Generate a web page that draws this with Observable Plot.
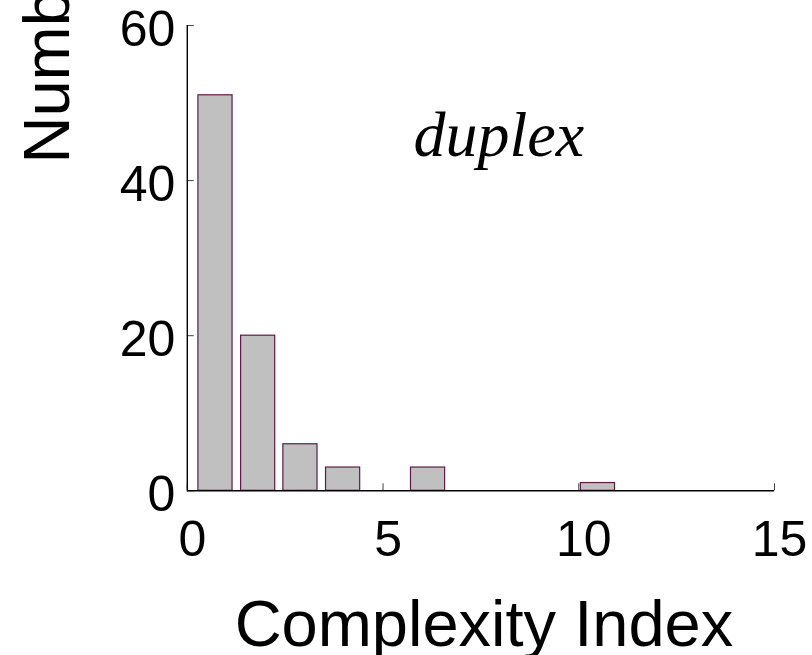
<!DOCTYPE html>
<html>
<head>
<meta charset="utf-8">
<script src="https://cdn.jsdelivr.net/npm/d3@7"></script>
<script src="https://cdn.jsdelivr.net/npm/@observablehq/plot@0.6"></script>
<style>
  html, body { margin: 0; padding: 0; background: #fff; }
  #chart svg { display: block; overflow: visible; }
</style>
</head>
<body>
<div id="chart"></div>
<script>
// Data
const binCenters = [0.72, 1.81, 2.89, 3.98, 5.06, 6.15, 7.23, 8.32, 9.40, 10.49];
const counts     = [51, 20, 6, 3, 0, 3, 0, 0, 0, 1];
const xTicks = [0, 5, 10, 15];
const yTicks = [0, 20, 40, 60];
const xLabel = "Complexity Index";
const yLabel = "Number";
const annotation = "duplex";

const binWidth = binCenters[1] - binCenters[0];
const barFrac = 0.8;
const bars = binCenters.map((c, i) => ({
  x1: c - binWidth * barFrac / 2,
  x2: c + binWidth * barFrac / 2,
  y: counts[i]
}));

const sans = "'Liberation Sans', Arial, Helvetica, sans-serif";

const plot = Plot.plot({
  width: 812,
  height: 655,
  marginLeft: 186.8,
  marginRight: 38,
  marginTop: 25,
  marginBottom: 164.7,
  style: { fontFamily: sans, background: "#fff", color: "#000" },
  x: { domain: [0, 15] },
  y: { domain: [0, 60] },
  marks: [
    Plot.rectY(bars, { x1: "x1", x2: "x2", y: "y", fill: "#c0c0c0", stroke: "#5e1a47", strokeWidth: 1.2 }),
    // inward ticks
    Plot.axisX({ ticks: xTicks, tickSize: -7, tickFormat: () => "", label: null, stroke: "#444", strokeWidth: 1 }),
    Plot.axisY({ ticks: yTicks, tickSize: -7, tickFormat: () => "", label: null, stroke: "#444", strokeWidth: 1 }),
    // tick labels
    Plot.axisX({ ticks: xTicks, tickSize: 0, tickPadding: 30, fontSize: 50, dx: 5, label: null, fill: "#000" }),
    Plot.axisY({ ticks: yTicks, tickSize: 0, tickPadding: 12, fontSize: 50, dy: 4, label: null, fill: "#000" }),
    // axis lines
    Plot.ruleY([0], { stroke: "#000", strokeWidth: 1.4 }),
    Plot.ruleX([0], { stroke: "#000", strokeWidth: 1.4 }),
    // axis titles
    Plot.text([xLabel], { frameAnchor: "bottom", text: d => d, fontSize: 65, dy: 155, lineAnchor: "bottom", fill: "#000", dx: 3 }),
    Plot.text([yLabel], { frameAnchor: "top-left", text: d => d, fontSize: 65, rotate: -90, textAnchor: "start", lineAnchor: "bottom", dx: -118.8, dy: 138, fill: "#000" }),
    // annotation
    Plot.text([annotation], { frameAnchor: "top-left", text: d => d, fontSize: 64, fontStyle: "italic", fontFamily: "'Liberation Serif', 'Times New Roman', serif", textAnchor: "start", lineAnchor: "bottom", dx: 226.2, dy: 130, fill: "#000" })
  ]
});
document.getElementById("chart").appendChild(plot);
</script>
</body>
</html>
